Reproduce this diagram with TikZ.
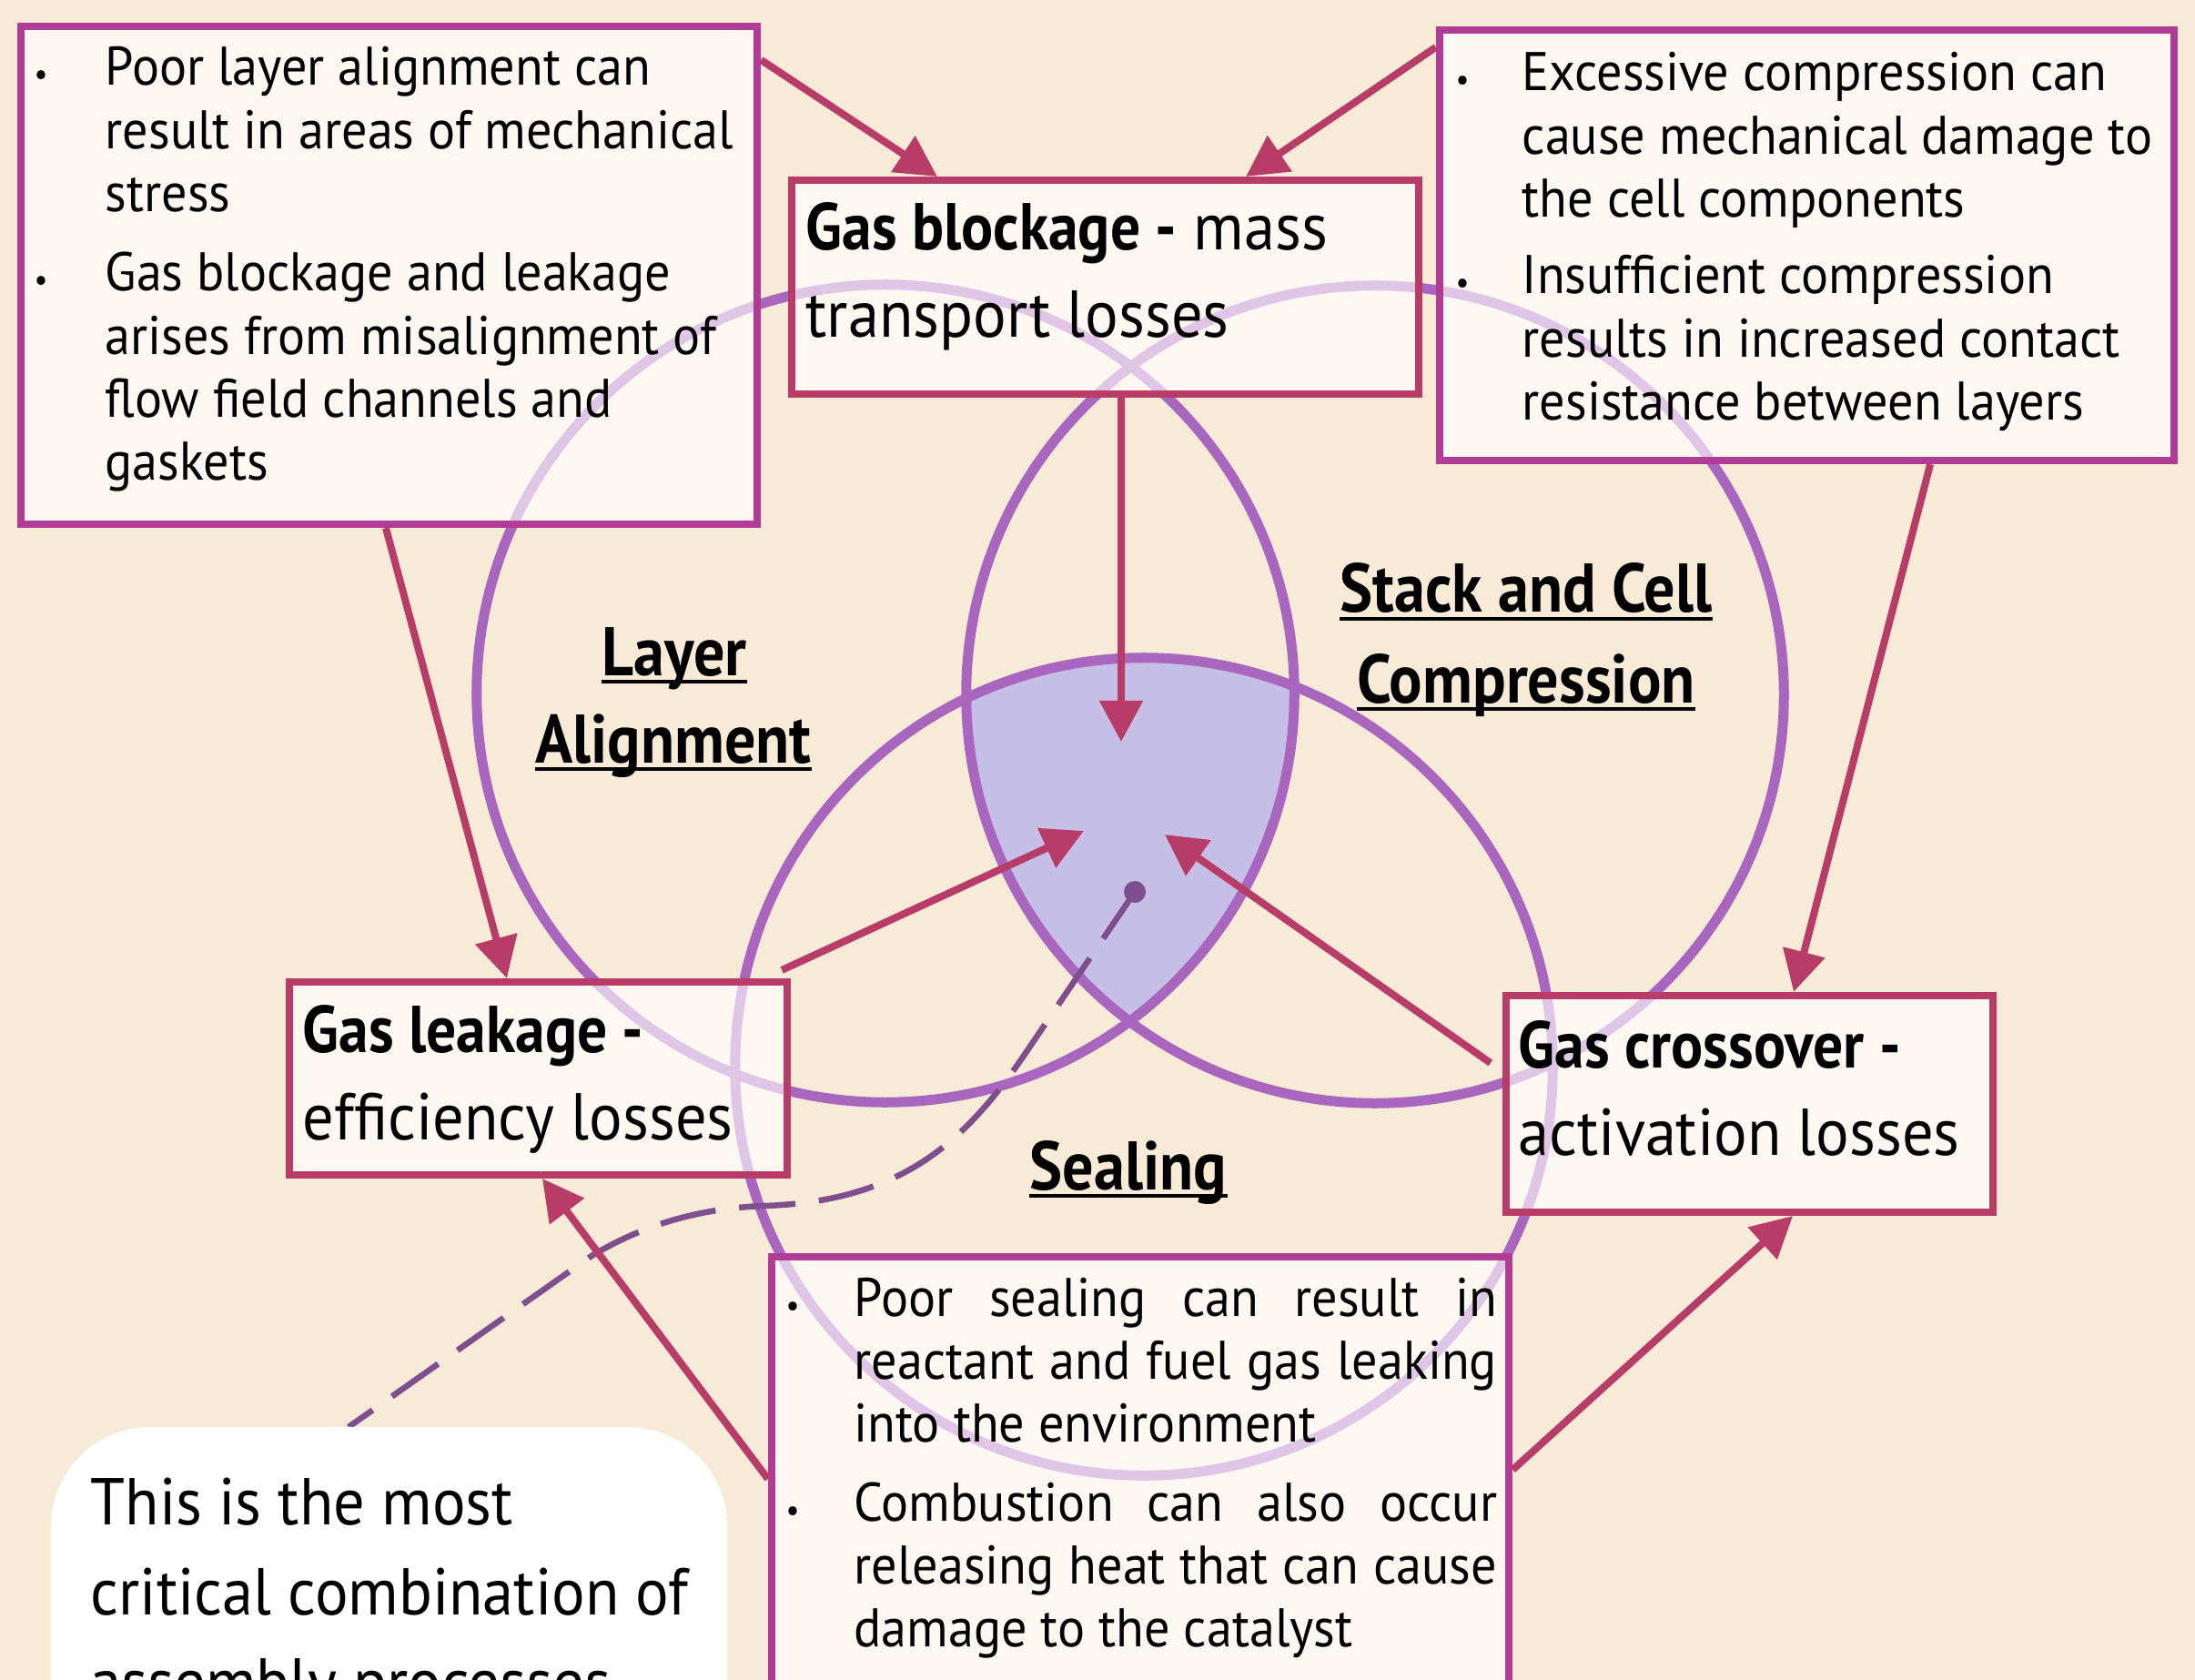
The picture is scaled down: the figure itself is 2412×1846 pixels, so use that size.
\documentclass[tikz,border=0pt]{standalone}
\usepackage{fontspec}
\setmainfont{PT Sans}[FakeStretch=0.94, BoldFeatures={FakeStretch=0.9}]
\usetikzlibrary{arrows.meta,calc}
\definecolor{bg}{HTML}{F7EAD7}
\definecolor{circc}{HTML}{A966BE}
\definecolor{lav}{HTML}{C5BEE6}
\definecolor{arrowc}{HTML}{B83C68}
\definecolor{dashc}{HTML}{7F4E8E}
\definecolor{borderM}{HTML}{B03C96}
\definecolor{borderR}{HTML}{B83C68}
\newcommand\bodyfont{\fontsize{17}{19.63}\selectfont}
\newcommand\titlefont{\fontsize{20.7}{27.3}\selectfont}
\newcommand\labfont{\fontsize{21.5}{27.3}\selectfont\bfseries}
\newcommand\callfont{\fontsize{20.7}{28.2}\selectfont}
\begin{document}
\begin{tikzpicture}[x=0.01cm,y=-0.01cm,
  box/.style={draw, line width=0.08cm, fill=white, fill opacity=0.63, text opacity=1, inner sep=0pt},
  magbox/.style={box, draw=borderM},
  redbox/.style={box, draw=borderR},
  txt/.style={anchor=base west, inner sep=0pt, align=left},
  bul/.style={anchor=base west, inner sep=0pt, font=\fontsize{10}{10}\selectfont},
  lab/.style={anchor=base, inner sep=0pt, font=\labfont},
  uline/.style={draw=black, line width=0.04cm},
  circ/.style={draw=circc, line width=0.11cm},
  arr/.style={draw=arrowc, line width=0.08cm, -{Triangle[length=0.45cm,width=0.46cm]}},
  dashline/.style={draw=dashc, line width=0.065cm, dash pattern=on 0.62cm off 0.26cm}
]
\useasboundingbox (0,0) rectangle (2412,1846);
\clip (0,0) rectangle (2412,1846);
\fill[bg] (0,0) rectangle (2412,1846);

% triple intersection
\begin{scope}
  \clip (973,762) circle[radius=4.49cm];
  \clip (1511,763) circle[radius=4.49cm];
  \fill[lav] (1257,1172) circle[radius=4.49cm];
\end{scope}

% circles
\draw[circ] (973,762) circle[radius=4.49cm];
\draw[circ] (1511,763) circle[radius=4.49cm];
\draw[circ] (1257,1172) circle[radius=4.49cm];

% labels
\node[lab] (lay1) at (741,742) {Layer};
\node[lab] (lay2) at (740,838) {Alignment};
\node[lab] (stk1) at (1677,673) {Stack and Cell};
\node[lab] (stk2) at (1677,772) {Compression};
\node[lab] (seal) at (1240,1307) {Sealing};
\foreach \n in {lay1,lay2,stk1,stk2,seal}{
  \draw[uline] ([yshift=-0.07cm]\n.base west) -- ([yshift=-0.07cm]\n.base east);
}

% boxes
\node[magbox, minimum width=8.09cm, minimum height=5.47cm] (boxA) at (427.5,302.5) {};
\node[redbox, minimum width=6.89cm, minimum height=2.35cm] (boxB) at (1214.5,315.5) {};
\node[magbox, minimum width=8.07cm, minimum height=4.73cm] (boxC) at (1985.5,269.5) {};
\node[redbox, minimum width=5.47cm, minimum height=2.12cm] (boxD) at (591.5,1185) {};
\node[redbox, minimum width=5.35cm, minimum height=2.38cm] (boxE) at (1922.5,1213) {};
\node[magbox, minimum width=8.10cm, minimum height=5.69cm] (boxF) at (1253,1665.5) {};

% dot, dashed connector, callout
\node[circle, fill=dashc, minimum size=0.24cm, inner sep=0pt] (dot) at (1247,980) {};
\coordinate (gEnd) at (383,1568);
\draw[dashline] (dot.center) -- (1125,1160) .. controls (1060,1255) and (990,1320) .. (840,1325)
   .. controls (760,1328) and (700,1350) .. (650,1380) -- (gEnd);
\node[fill=white, rounded corners=1.1cm, minimum width=7.43cm, minimum height=4.24cm, inner sep=0pt] (boxG) at (427.5,1780) {};

% arrows
\draw[arr] ([yshift=-0.41cm]boxA.north east) -- ([xshift=1.64cm]boxB.north west);
\draw[arr] ([yshift=-0.23cm]boxC.north west) -- ([xshift=5.03cm]boxB.north west);
\coordinate (tipB) at (1232,815);
\draw[arr] ([xshift=3.66cm]boxB.south west) -- (tipB);
\draw[arr] ([xshift=4.05cm]boxA.south west) -- ([xshift=2.43cm]boxD.north west);
\draw[arr] ([xshift=5.43cm]boxC.south west) -- ([xshift=3.2cm]boxE.north west);
\coordinate (tipD) at (1191,913);
\draw[arr] ([xshift=-0.1cm,yshift=0.09cm]boxD.north east) -- (tipD);
\coordinate (tipE) at (1280,917);
\draw[arr] ([xshift=-0.13cm,yshift=-0.78cm]boxE.north west) -- (tipE);
\draw[arr] ([yshift=-2.48cm]boxF.north west) -- ([xshift=2.82cm]boxD.south west);
\draw[arr] ([yshift=-2.38cm]boxF.north east) -- ([xshift=3.19cm]boxE.south west);

% box A text
\node[bul] (bA1) at (37,94) {•};
\node[txt] (tA1) at (115,94) {\bodyfont\parbox[t]{9cm}{Poor layer alignment can\\result in areas of mechanical\\stress}};
\node[bul] (bA2) at (37,320) {•};
\node[txt] (tA2) at (115,320) {\bodyfont\parbox[t]{9cm}{Gas blockage and leakage\\arises from misalignment of\\flow field channels and\\gaskets}};

% box B text
\node[txt] (tB) at (885,275) {\titlefont\parbox[t]{9cm}{\textbf{Gas blockage -} mass\\transport losses}};

% box C text
\node[bul] (bC1) at (1599,100) {•};
\node[txt] (tC1) at (1672,100) {\bodyfont\parbox[t]{9cm}{Excessive compression can\\cause mechanical damage to\\the cell components}};
\node[bul] (bC2) at (1599,323) {•};
\node[txt] (tC2) at (1672,323) {\bodyfont\parbox[t]{9cm}{Insufficient compression\\results in increased contact\\resistance between layers}};

% box D text
\node[txt] (tD) at (332,1156) {\titlefont\parbox[t]{7cm}{\textbf{Gas leakage -}\\efficiency losses}};

% box E text
\node[txt] (tE) at (1668,1173) {\titlefont\parbox[t]{7cm}{\textbf{Gas crossover -}\\activation losses}};

% box F text
\node[bul] (bF1) at (863,1446) {•};
\node[txt] (tF1) at (938,1446) {\bodyfont\parbox[t]{7.06cm}{\makebox[7.06cm][s]{Poor sealing can result in}\\\makebox[7.06cm][s]{reactant and fuel gas leaking}\\into the environment}};
\node[bul] (bF2) at (863,1671) {•};
\node[txt] (tF2) at (938,1671) {\bodyfont\parbox[t]{7.06cm}{\makebox[7.06cm][s]{Combustion can also occur}\\\makebox[7.06cm][s]{releasing heat that can cause}\\damage to the catalyst}};

% callout text
\node[txt] (tG) at (99,1675) {\callfont\parbox[t]{9cm}{This is the most\\critical combination of\\assembly processes}};
\end{tikzpicture}
\end{document}
